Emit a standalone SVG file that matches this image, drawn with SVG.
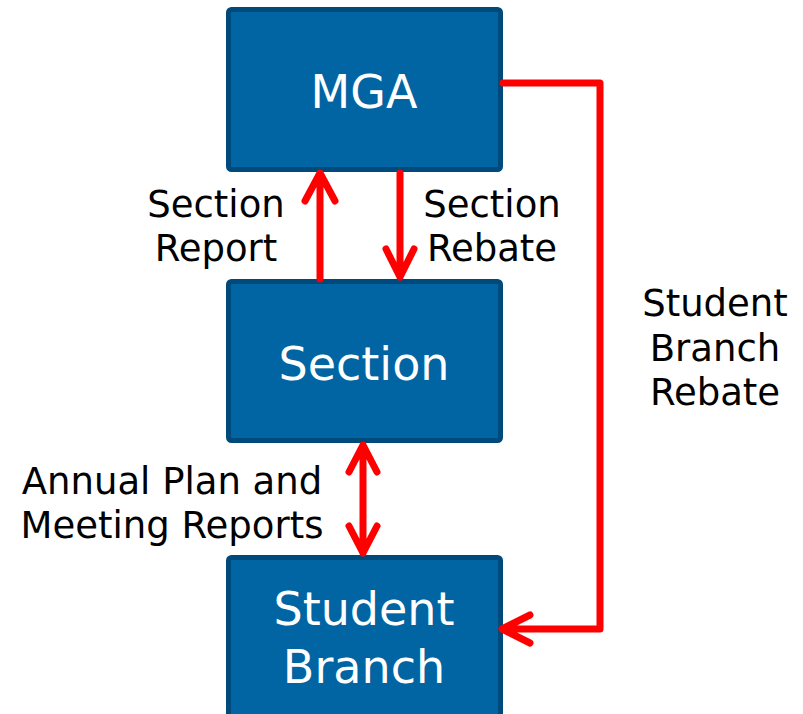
<svg xmlns="http://www.w3.org/2000/svg" width="803" height="714" viewBox="0 0 803 714">
<style>
.box{fill:#0065a2;stroke:#00497b;stroke-width:5}
.btxt{font-family:"DejaVu Sans",Verdana,sans-serif;font-size:46px;fill:#ffffff;text-anchor:middle}
.lbl{font-family:"DejaVu Sans",Verdana,sans-serif;font-size:37px;fill:#000000;text-anchor:middle}
.con{fill:none;stroke:#ff0000;stroke-width:7;stroke-linecap:round;stroke-linejoin:round}
</style>
<rect width="803" height="714" fill="#ffffff"/>
<g id="node-mga">
<rect class="box" x="228.5" y="9.5" width="272" height="160" rx="3"/>
<text class="btxt" x="364" y="108">MGA</text>
</g>
<g id="node-section">
<rect class="box" x="228.5" y="281.5" width="272" height="159" rx="3"/>
<text class="btxt" x="364" y="380">Section</text>
</g>
<g id="node-student-branch">
<rect class="box" x="228.5" y="557.5" width="272" height="170" rx="3"/>
<text class="btxt" x="364" y="625">Student</text>
<text class="btxt" x="364" y="683">Branch</text>
</g>
<g id="connectors">
<path class="con" d="M320 279 V173 M305 201 L320 173 L335 201"/>
<path class="con" d="M400 173 V277 M386 249 L400 277 L414 249"/>
<path class="con" d="M363 445 V553 M349 472 L363 445 L377 472 M349 526 L363 553 L377 526"/>
<path class="con" d="M503 83 H600 V629 H502 M530 615 L502 629 L530 643"/>
</g>
<g id="labels">
<text class="lbl" x="216" y="217">Section</text>
<text class="lbl" x="216" y="261">Report</text>
<text class="lbl" x="492" y="217">Section</text>
<text class="lbl" x="492" y="261">Rebate</text>
<text class="lbl" x="715" y="316">Student</text>
<text class="lbl" x="715" y="361">Branch</text>
<text class="lbl" x="715" y="405">Rebate</text>
<text class="lbl" x="172" y="494">Annual Plan and</text>
<text class="lbl" x="172" y="538">Meeting Reports</text>
</g>
</svg>
